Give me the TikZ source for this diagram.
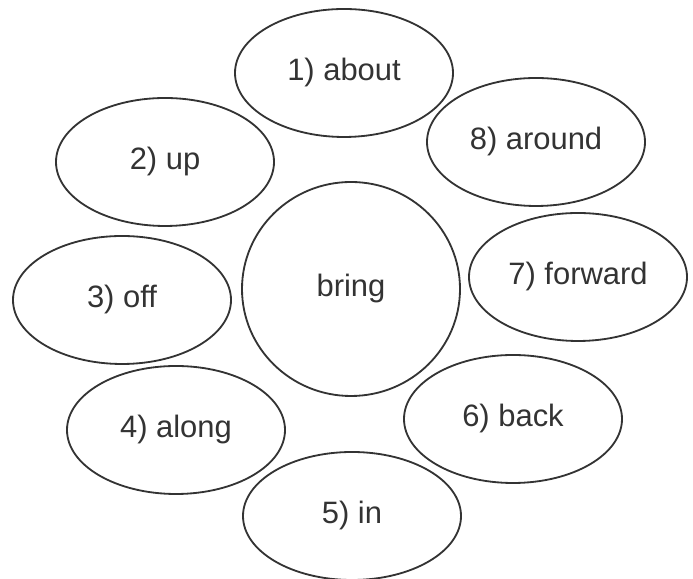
\documentclass[tikz,border=0pt]{standalone}
\usepackage{fontspec}
\setmainfont{Liberation Sans}
\usetikzlibrary{shapes.geometric}

\begin{document}
\begin{tikzpicture}[x=1cm,y=1cm,font=\fontsize{22}{26}\selectfont,
  ring/.style={draw=black!80,text=black!80,line width=1.3pt,ellipse,inner sep=0pt,
    minimum width=5.45cm,minimum height=3.2cm},
  hub/.style={ring,minimum height=5.35cm}]
 \useasboundingbox (0,0) rectangle (17.325,14.475);
 % ---- centre ----
 \node[hub] (bring) at (8.775,7.25) {bring};
 % ---- particles ----
 \node[ring] (about) at (8.6,12.65) {1) about};
 \node[ring] (up) at (4.125,10.425) {2) up};
 \node[ring] (off) at (3.05,6.975) {3) off};
 \node[ring] (along) at (4.4,3.725) {4) along};
 \node[ring] (in) at (8.8,1.575) {5) in};
 \node[ring] (back) at (12.825,4.0) {6) back};
 \node[ring] (forward) at (14.45,7.55) {7) forward};
 \node[ring] (around) at (13.4,10.925) {8) around};
\end{tikzpicture}
\end{document}
